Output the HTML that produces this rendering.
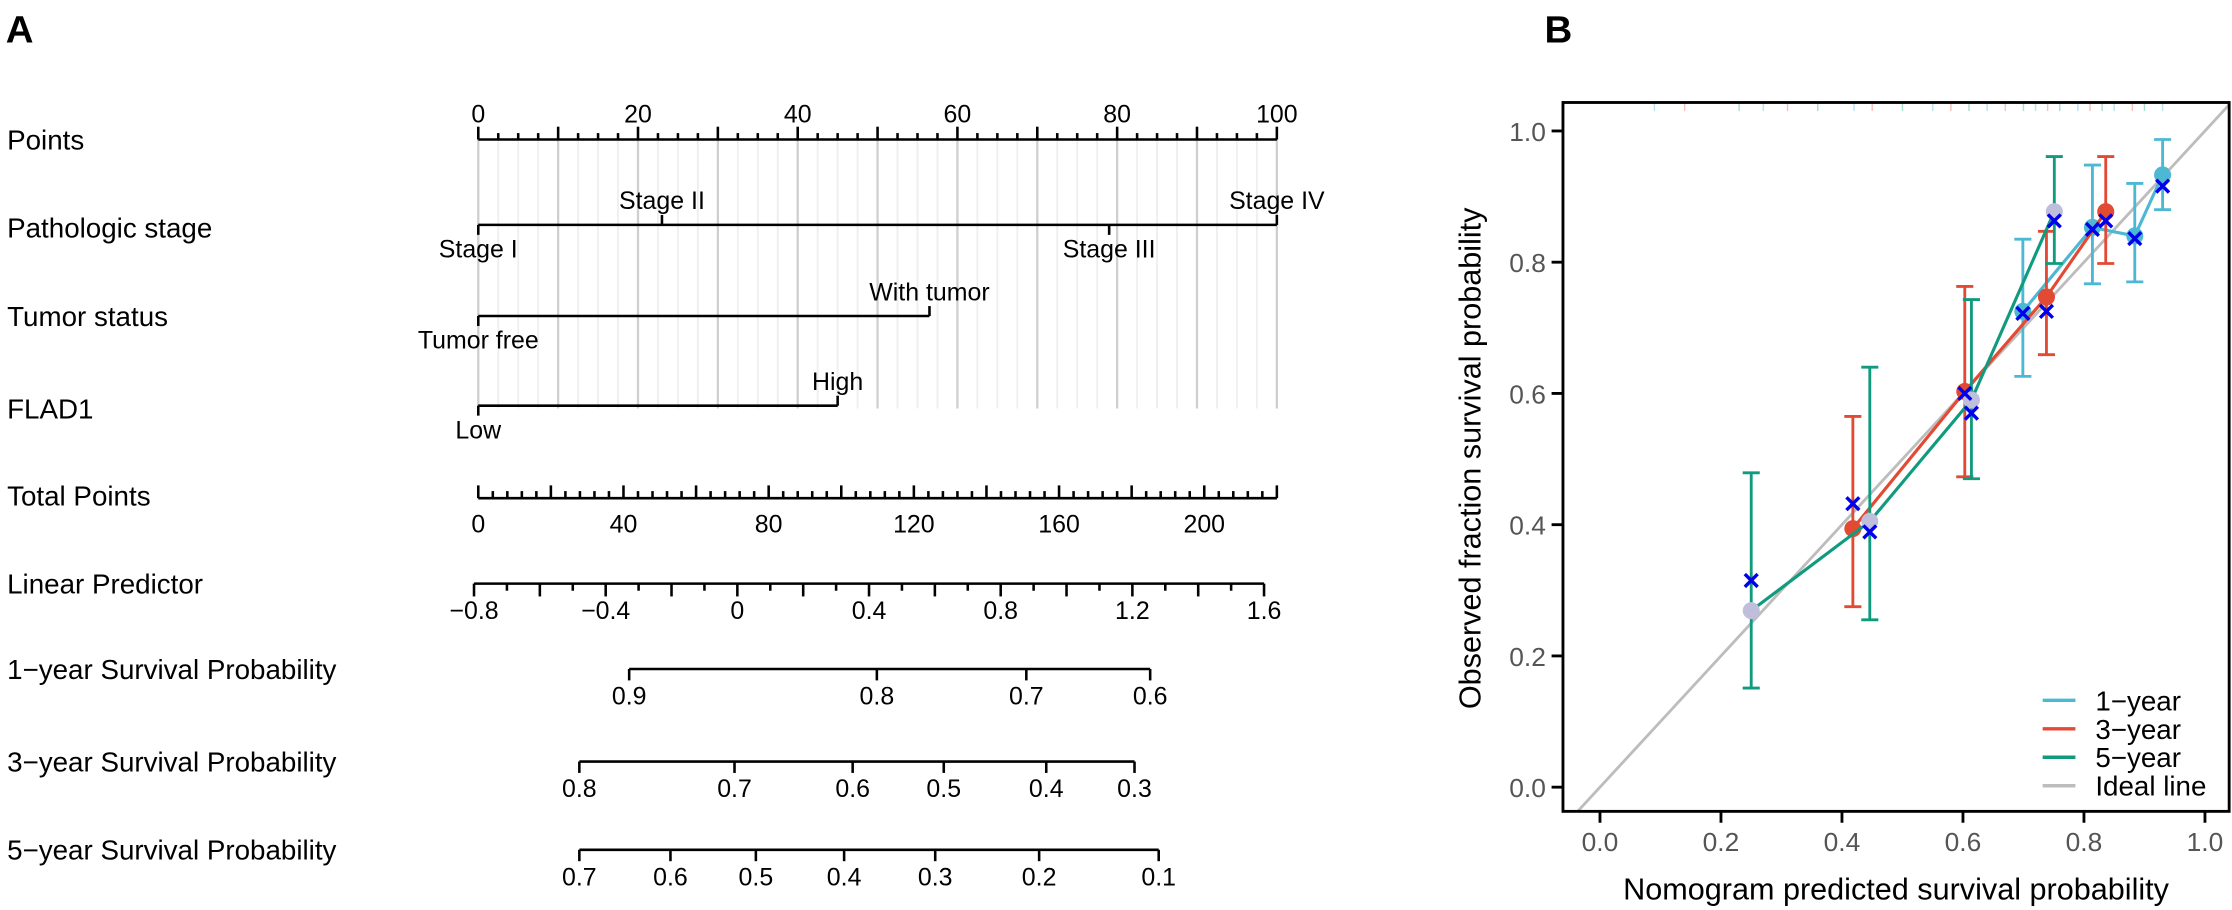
<!DOCTYPE html>
<html><head><meta charset="utf-8"><style>
html,body{margin:0;padding:0;background:#fff}
svg{display:block}
text{font-family:"Liberation Sans",Arial,sans-serif}
</style></head><body>
<svg id="fig" xmlns="http://www.w3.org/2000/svg" width="2232" height="910" viewBox="0 0 1568 639.3" preserveAspectRatio="none">
<rect width="1568" height="640" fill="#fff"/>
<g id="nomo"></g>
<g id="cal"></g>
</svg>
<script>
// ---------- Nomogram data ----------
const pointsTicks = [0,20,40,60,80,100];
const stageLabels = ["Stage I","Stage II","Stage III","Stage IV"];
const stagePoints = [0,23,79,100];
const tumorLabels = ["Tumor free","With tumor"];
const tumorPoints = [0,56.5];
const fladLabels = ["Low","High"];
const fladPoints = [0,45];
const totalTicks = [0,40,80,120,160,200];
const lpTicks = [-0.8,-0.4,0,0.4,0.8,1.2,1.6];
const surv1Labels = ["0.9","0.8","0.7","0.6"];
const surv1Pos = [442,616,721,808];
const surv3Labels = ["0.8","0.7","0.6","0.5","0.4","0.3"];
const surv3Pos = [407,516,599,663,735,797];
const surv5Labels = ["0.7","0.6","0.5","0.4","0.3","0.2","0.1"];
const surv5Pos = [407,471,531,593,657,730,814];

// ---------- Calibration data ----------
const xTicks = [0,0.2,0.4,0.6,0.8,1.0];
const yTicks = [0,0.2,0.4,0.6,0.8,1.0];
const y1Pred = [0.699,0.814,0.884,0.930];
const y1Obs  = [0.725,0.853,0.840,0.933];
const y1Lo   = [0.626,0.767,0.770,0.880];
const y1Hi   = [0.835,0.948,0.920,0.987];
const y1Cor  = [0.722,0.850,0.836,0.916];
const y3Pred = [0.418,0.603,0.738,0.836];
const y3Obs  = [0.394,0.603,0.747,0.877];
const y3Lo   = [0.275,0.473,0.659,0.798];
const y3Hi   = [0.565,0.763,0.847,0.961];
const y3Cor  = [0.432,0.600,0.725,0.863];
const y5Pred = [0.250,0.446,0.614,0.751];
const y5Obs  = [0.269,0.405,0.590,0.877];
const y5Lo   = [0.151,0.255,0.470,0.798];
const y5Hi   = [0.479,0.640,0.743,0.961];
const y5Cor  = [0.315,0.389,0.570,0.863];
const rugX = [0.09,0.14,0.23,0.27,0.31,0.36,0.42,0.45,0.5,0.55,0.58,0.61,0.64,0.67,0.7,0.72,0.74,0.76,0.79,0.81,0.83,0.85,0.88,0.9,0.93];

const NS="http://www.w3.org/2000/svg";
function mk(parent,tag,attrs,txt){const e=document.createElementNS(NS,tag);for(const k in attrs)e.setAttribute(k,attrs[k]);if(txt!==undefined)e.textContent=txt;parent.appendChild(e);return e;}
const nomo=document.getElementById('nomo');
const cal=document.getElementById('cal');
const SW=1.8;
const LF=17.5;

let t=mk(nomo,'text',{x:4,y:30,'font-size':27,'font-weight':'bold'},'A');


t=mk(cal,'text',{x:1085,y:30,'font-size':27,'font-weight':'bold'},'B');



const rowNames=["Points","Pathologic stage","Tumor status","FLAD1","Total Points","Linear Predictor","1\u2212year Survival Probability","3\u2212year Survival Probability","5\u2212year Survival Probability"];
const rowY=[105,167,229,294,355,417,477,542,604];
rowNames.forEach((n,i)=>{const e=mk(nomo,'text',{x:5,y:rowY[i],'font-size':19.5,fill:'#000'},n);

});

const P0=336,P1=897;
const px=p=>P0+(P1-P0)*p/100;
for(let p=0;p<=100;p+=2.5){const major=(p%10===0);
 const g=mk(nomo,'line',{x1:px(p),x2:px(p),y1:98,y2:287,stroke:major?'#cfcfcf':'#efefef','stroke-width':major?1.6:1.3});
 
 }
function hline(x1,x2,y,name){const l=mk(nomo,'line',{x1:x1,x2:x2,y1:y,y2:y,stroke:'#000','stroke-width':SW});
 
 }
function tick(x,y1,y2){mk(nomo,'line',{x1:x,x2:x,y1:y1,y2:y2,stroke:'#000','stroke-width':SW});}
function lab(x,y,s,name){const e=mk(nomo,'text',{x:x,y:y,'font-size':LF,'text-anchor':'middle'},s);
 
 }
hline(P0,P1,98,'points-axis');
for(let p=0;p<=100;p+=2.5){tick(px(p),98,(p%10===0)?89:93.5);}
pointsTicks.forEach(p=>lab(px(p),86,String(p),'points-tick-label'));

function catRow(labels,pts,y,name){
 hline(px(pts[0]),px(pts[pts.length-1]),y,name+'-line');
 labels.forEach((s,i)=>{const x=px(pts[i]);const up=(name==='stage')?(i%2===1):(i===1);
  if(up){tick(x,y,y-7);lab(x,y-11,s,name+'-label');}else{tick(x,y,y+7);lab(x,y+23,s,name+'-label');}});
}
catRow(stageLabels,stagePoints,158,'stage');
catRow(tumorLabels,tumorPoints,222,'tumor');
catRow(fladLabels,fladPoints,285,'flad1');

const tx=v=>P0+(P1-P0)*v/220;
hline(tx(0),tx(220),350,'total-points-axis');
for(let v=0;v<=220;v+=4){tick(tx(v),350,(v%20===0)?341:345);}
totalTicks.forEach(v=>lab(tx(v),374,String(v),'total-points-tick-label'));

const lx=v=>333+(888-333)*(v+0.8)/2.4;
hline(lx(-0.8),lx(1.6),410,'linear-predictor-axis');
for(let k=0;k<=24;k++){const v=-0.8+k*0.1;tick(lx(v),410,(k%2===0)?419:415);}
lpTicks.forEach(v=>lab(lx(v),435,(v<0?'\u2212':'')+(v===0?'0':Math.abs(v).toString()),'linear-predictor-tick-label'));

function survAxis(labels,pos,y,name){hline(pos[0],pos[pos.length-1],y,name+'-axis');
 labels.forEach((s,i)=>{tick(pos[i],y,y+8);lab(pos[i],y+25,s,name+'-tick-label');});}
survAxis(surv1Labels,surv1Pos,470,'surv-1yr');
survAxis(surv3Labels,surv3Pos,535,'surv-3yr');
survAxis(surv5Labels,surv5Pos,597,'surv-5yr');

// ---------- Calibration plot ----------
const BX0=1098,BX1=1566,BY0=72,BY1=570;
const cx=v=>1124+425*v;
const cy=v=>553-461*v;
const clip=mk(cal,'clipPath',{id:'boxclip'});mk(clip,'rect',{x:BX0,y:BY0,width:BX1-BX0,height:BY1-BY0});
const plot=mk(cal,'g',{'clip-path':'url(#boxclip)'});
rugX.forEach((v,i)=>{const r=mk(plot,'line',{x1:cx(v),x2:cx(v),y1:BY0,y2:BY0+6,stroke:['#b9e1ec','#f3c2ba','#a9dccf'][i%3],'stroke-width':1});
 
 });
let il=mk(plot,'line',{x1:cx(-0.1),y1:cy(-0.1),x2:cx(1.2),y2:cy(1.2),stroke:'#bdbdbd','stroke-width':2});



function series(pred,obs,lo,hi,cor,col,circ,name){
 const g=mk(plot,'g',{});
 
 
 pred.forEach((p,i)=>{const x=cx(p);
  mk(g,'line',{x1:x,x2:x,y1:cy(lo[i]),y2:cy(hi[i]),stroke:col,'stroke-width':2});
  mk(g,'line',{x1:x-6,x2:x+6,y1:cy(lo[i]),y2:cy(lo[i]),stroke:col,'stroke-width':2});
  mk(g,'line',{x1:x-6,x2:x+6,y1:cy(hi[i]),y2:cy(hi[i]),stroke:col,'stroke-width':2});});
 const pts=pred.map((p,i)=>cx(p)+','+cy(obs[i])).join(' ');
 const pl=mk(g,'polyline',{points:pts,fill:'none',stroke:col,'stroke-width':2.2});
 
 
 pred.forEach((p,i)=>{const c=mk(g,'circle',{cx:cx(p),cy:cy(obs[i]),r:6,fill:circ});
  
  });
 return g;
}
series(y1Pred,y1Obs,y1Lo,y1Hi,y1Cor,'#4db8d4','#4db8d4','1-year');
series(y3Pred,y3Obs,y3Lo,y3Hi,y3Cor,'#e24a33','#e24a33','3-year');
series(y5Pred,y5Obs,y5Lo,y5Hi,y5Cor,'#119b7e','#bfbfdc','5-year');
[[y1Pred,y1Cor],[y3Pred,y3Cor],[y5Pred,y5Cor]].forEach(([pr,co])=>{pr.forEach((p,i)=>{const x=cx(p),y=cy(co[i]),d=4.5;
 const m=mk(plot,'path',{d:`M${x-d},${y-d}L${x+d},${y+d}M${x-d},${y+d}L${x+d},${y-d}`,stroke:'#0000ee','stroke-width':2.4,fill:'none'});
 
 });});

let bx=mk(cal,'rect',{x:BX0,y:BY0,width:BX1-BX0,height:BY1-BY0,fill:'none',stroke:'#000','stroke-width':2});


xTicks.forEach(v=>{mk(cal,'line',{x1:cx(v),x2:cx(v),y1:BY1,y2:BY1+8,stroke:'#000','stroke-width':2});
 const e=mk(cal,'text',{x:cx(v),y:BY1+28,'font-size':18.5,'text-anchor':'middle',fill:'#555'},v.toFixed(1));
 
 });
yTicks.forEach(v=>{mk(cal,'line',{x1:BX0-8,x2:BX0,y1:cy(v),y2:cy(v),stroke:'#000','stroke-width':2});
 const e=mk(cal,'text',{x:BX0-12,y:cy(v)+7,'font-size':18.5,'text-anchor':'end',fill:'#555'},v.toFixed(1));
 
 });
let xt=mk(cal,'text',{x:1332,y:632,'font-size':21.5,'text-anchor':'middle'},'Nomogram predicted survival probability');


let yt=mk(cal,'text',{x:0,y:0,'font-size':21.5,'text-anchor':'middle',transform:'translate(1040,322) rotate(-90)'},'Observed fraction survival probability');



const legNames=["1\u2212year","3\u2212year","5\u2212year","Ideal line"];
const legCols=['#4db8d4','#e24a33','#119b7e','#bdbdbd'];
const legY=[492,512,532,552];
legNames.forEach((n,i)=>{const g=mk(cal,'g',{});
 
 
 mk(g,'line',{x1:1435,x2:1458,y1:legY[i],y2:legY[i],stroke:legCols[i],'stroke-width':2.4});
 mk(g,'text',{x:1472,y:legY[i]+7,'font-size':19.5},n);});
</script>
</body></html>
